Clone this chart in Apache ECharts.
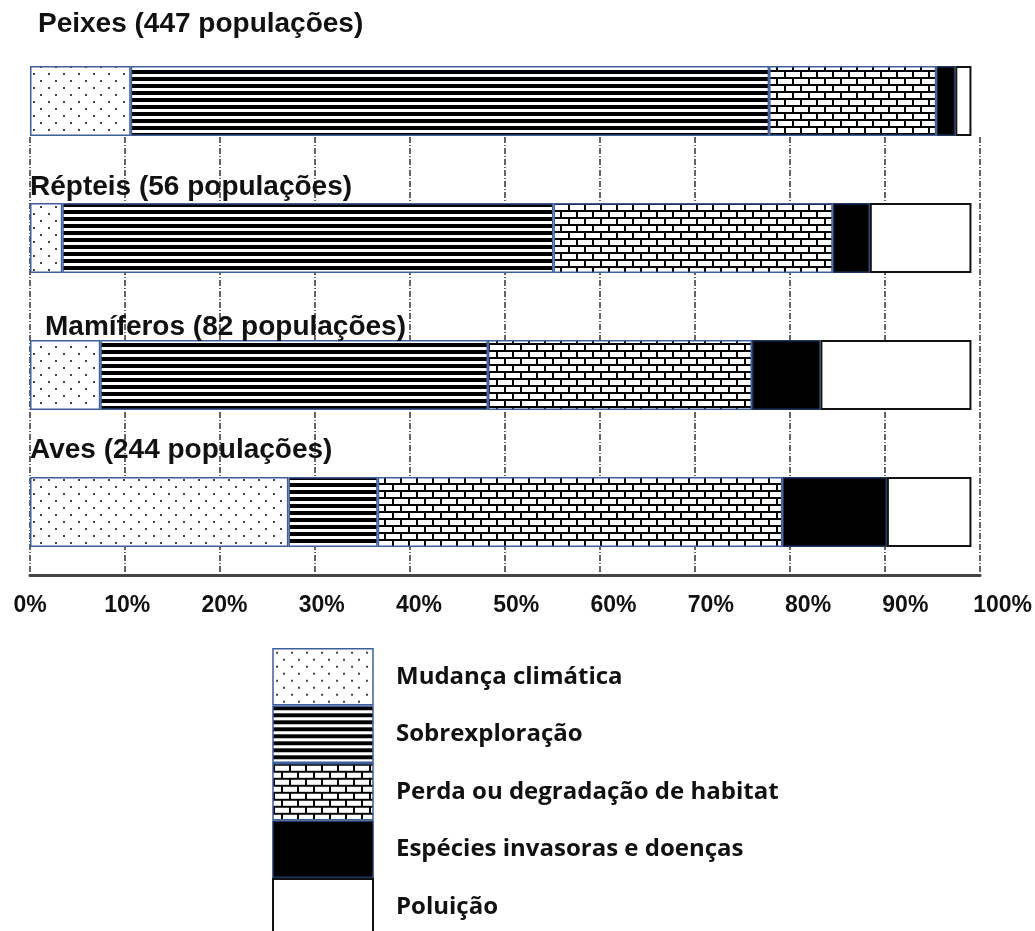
<!DOCTYPE html>
<html>
<head>
<meta charset="utf-8">
<script src="https://cdn.jsdelivr.net/npm/echarts@6/dist/echarts.min.js"></script>
<style>
html,body{margin:0;padding:0;background:#fff;}
#chart{width:1035px;height:931px;}
</style>
</head>
<body>
<div id="chart"></div>
<script>
// ---- data ----
const categories = ['Peixes', 'Répteis', 'Mamíferos', 'Aves'];
const populations = [447, 56, 82, 244];
const seriesNames = ['Mudança climática', 'Sobrexploração', 'Perda ou degradação de habitat', 'Espécies invasoras e doenças', 'Poluição'];
const climateChange = [10.6, 3.4, 7.4, 27.2];
const overexploitation = [67.2, 51.7, 40.8, 9.4];
const habitatLoss = [17.6, 29.4, 27.8, 42.6];
const invasiveSpecies = [2.0, 3.9, 7.2, 11.0];
const pollution = [1.7, 10.7, 15.9, 8.9];
const tickValues = [0, 10, 20, 30, 40, 50, 60, 70, 80, 90, 100];

// ---- patterns ----
function makePattern(w, h, draw) {
  const c = document.createElement('canvas');
  c.width = w; c.height = h;
  const ctx = c.getContext('2d');
  ctx.fillStyle = '#fff';
  ctx.fillRect(0, 0, w, h);
  draw(ctx);
  return { image: c, repeat: 'repeat' };
}
const dotPattern = makePattern(15, 14, ctx => {
  ctx.fillStyle = '#444';
  ctx.fillRect(3, 3, 2, 2);
  ctx.fillRect(10, 10, 2, 2);
});
const stripePattern = makePattern(8, 7, ctx => {
  ctx.fillStyle = '#000';
  ctx.fillRect(0, 0, 8, 4);
});
const brickPattern = makePattern(16, 14, ctx => {
  ctx.fillStyle = '#000';
  ctx.fillRect(0, 0, 16, 2);
  ctx.fillRect(0, 7, 16, 2);
  ctx.fillRect(0, 0, 2, 7);
  ctx.fillRect(8, 7, 2, 7);
});

const fills = [dotPattern, stripePattern, brickPattern, '#000', '#fff'];
const borders = ['#3f5e9c', '#3f5e9c', '#3f5e9c', '#1f3460', '#111'];
const borderWidths = [1.5, 1.5, 1.5, 1.5, 2];
const values = [climateChange, overexploitation, habitatLoss, invasiveSpecies, pollution];

const titleLeft = [38, 30, 45, 30];
const titleTop = [10, 173, 313, 436];

const chart = echarts.init(document.getElementById('chart'), null, { renderer: 'canvas' });

const option = {
  animation: false,
  backgroundColor: '#fff',
  title: categories.map((c, i) => ({
    text: c + ' (' + populations[i] + ' populações)',
    left: titleLeft[i],
    top: titleTop[i],
    padding: 0,
    textStyle: { fontFamily: 'Liberation Sans, Arial, sans-serif', fontWeight: 'bold', fontSize: 28, color: '#111' }
  })),
  legend: {
    orient: 'vertical',
    left: 272,
    top: 648,
    height: 290,
    itemWidth: 100,
    itemHeight: 56,
    itemGap: 0,
    icon: 'rect',
    selectedMode: false,
    padding: 0,
    data: seriesNames.map((n, i) => ({
      name: n,
      itemStyle: { color: fills[i], borderColor: borders[i], borderWidth: borderWidths[i] }
    })),
    textStyle: { fontFamily: 'Open Sans, sans-serif', fontWeight: 'bold', fontSize: 24, color: '#111', padding: [0, 0, 0, 18] }
  },
  grid: [
    { left: 30, right: 55, top: 32.5, bottom: 350.5 },
    { left: 30, right: 55, top: 137, bottom: 356 },
    { left: 30, right: 32, top: 137, bottom: 356 }
  ],
  xAxis: [
    { gridIndex: 0, type: 'value', min: 0, max: 100, show: false },
    {
      gridIndex: 1, type: 'value', min: 0, max: 100, interval: 10,
      axisLine: { show: true, lineStyle: { color: '#444', width: 3 } },
      axisTick: { show: false },
      axisLabel: { show: false },
      splitLine: { show: true, lineStyle: { color: '#333', width: 1.5, type: [6, 2, 1, 2] } }
    },
    {
      gridIndex: 2, type: 'value', min: 0, max: 100, interval: 10,
      axisLine: { show: false }, axisTick: { show: false }, splitLine: { show: false },
      axisLabel: {
        show: true, margin: 19,
        formatter: v => (tickValues.indexOf(v) >= 0 ? v + '%' : ''),
        fontFamily: 'Liberation Sans, Arial, sans-serif', fontWeight: 'bold', fontSize: 23, color: '#111'
      }
    }
  ],
  yAxis: [
    { gridIndex: 0, type: 'category', data: categories, inverse: true, show: false },
    { gridIndex: 1, type: 'value', min: 0, max: 1, show: false },
    { gridIndex: 2, type: 'value', min: 0, max: 1, show: false }
  ],
  series: seriesNames.map((n, i) => ({
    name: n,
    type: 'bar',
    stack: 'total',
    xAxisIndex: 0,
    yAxisIndex: 0,
    barWidth: 70,
    z: 5,
    itemStyle: { color: fills[i], borderColor: borders[i], borderWidth: borderWidths[i] },
    emphasis: { disabled: true },
    data: values[i]
  }))
};
chart.setOption(option);
</script>
</body>
</html>
